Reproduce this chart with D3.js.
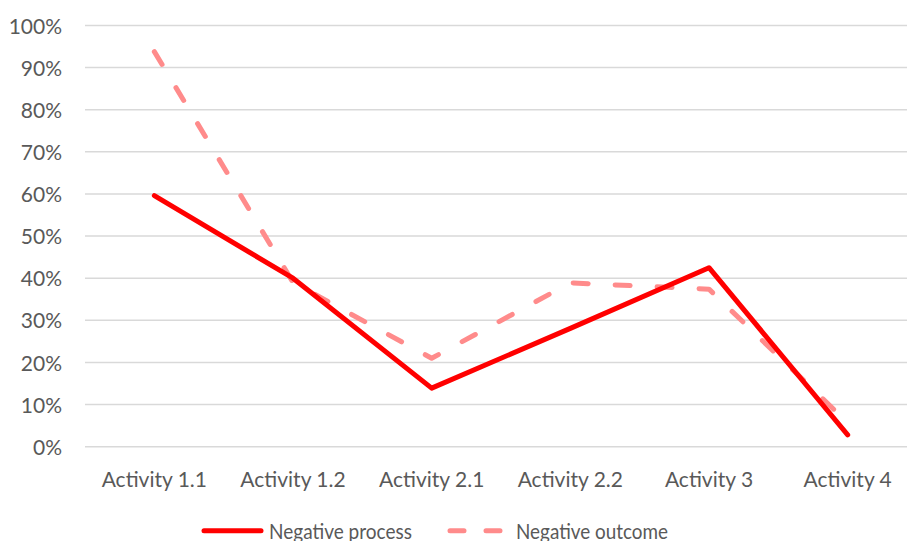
<!DOCTYPE html>
<html>
<head>
<meta charset="utf-8">
<script src="https://cdn.jsdelivr.net/npm/d3@7/dist/d3.min.js"></script>
<style>
  html, body { margin: 0; padding: 0; background: #fff; overflow: hidden; }
  svg { display: block; }
  text { font-family: Lato, "Open Sans", sans-serif; fill: #595959; }
</style>
</head>
<body>
<svg id="chart" width="907" height="541"></svg>
<script>
// Activities on the horizontal axis
const categories = ["Activity 1.1", "Activity 1.2", "Activity 2.1", "Activity 2.2", "Activity 3", "Activity 4"];
// Share of negative responses per activity
const negativeProcess = [0.596, 0.40, 0.139, 0.281, 0.425, 0.028];
const negativeOutcome = [0.938, 0.39, 0.21, 0.389, 0.374, 0.057];
// Vertical axis ticks
const yTicks = [0, 0.1, 0.2, 0.3, 0.4, 0.5, 0.6, 0.7, 0.8, 0.9, 1.0];

const seriesList = [
  { name: "Negative process", values: negativeProcess, color: "#FF0000", dash: null, legendDash: null, legendWidth: 143 },
  { name: "Negative outcome", values: negativeOutcome, color: "#FF8B8B", dash: "15,27", legendDash: "14,22", legendWidth: 152 }
];

const svg = d3.select("#chart");
const fontSize = 21;

const x = d3.scaleBand().domain(categories).range([85, 917]).padding(0);
const y = d3.scaleLinear().domain([0, 1]).range([446.7, 25.5]);

// Horizontal gridlines
svg.append("g")
  .selectAll("line")
  .data(yTicks)
  .join("line")
  .attr("x1", 85).attr("x2", 917)
  .attr("y1", d => y(d)).attr("y2", d => y(d))
  .attr("stroke", "#D9D9D9")
  .attr("stroke-width", 1.5);

// Y axis labels
const yAxis = d3.axisLeft(y).tickValues(yTicks).tickFormat(d3.format(".0%")).tickSize(0).tickPadding(0);
const yg = svg.append("g").attr("transform", "translate(62,0)").call(yAxis);
yg.select(".domain").remove();
yg.selectAll("text")
  .attr("font-family", "Lato, 'Open Sans', sans-serif")
  .attr("font-size", fontSize)
  .attr("fill", "#595959")
  .attr("dy", "0.36em");

// X axis labels
const xAxis = d3.axisBottom(x).tickSize(0).tickPadding(0);
const xg = svg.append("g").attr("transform", "translate(0,486.5)").call(xAxis);
xg.select(".domain").remove();
xg.selectAll("text")
  .attr("font-family", "Lato, 'Open Sans', sans-serif")
  .attr("font-size", fontSize)
  .attr("fill", "#595959")
  .attr("y", 0)
  .attr("dy", 0);

// Series lines
const line = d3.line()
  .x((d, i) => x(categories[i]) + x.bandwidth() / 2)
  .y(d => y(d));

svg.append("g")
  .selectAll("path")
  .data(seriesList.slice().reverse())
  .join("path")
  .attr("d", s => line(s.values))
  .attr("fill", "none")
  .attr("stroke", s => s.color)
  .attr("stroke-width", 5)
  .attr("stroke-linejoin", "round")
  .attr("stroke-linecap", "round")
  .attr("stroke-dasharray", s => s.dash);

// Legend
const legendItems = [
  { s: seriesList[0], x0: 204, x1: 261, tx: 269 },
  { s: seriesList[1], x0: 450, x1: 501, tx: 516 }
];
const lg = svg.append("g");
legendItems.forEach(item => {
  lg.append("line")
    .attr("x1", item.x0).attr("x2", item.x1)
    .attr("y1", 530.7).attr("y2", 530.7)
    .attr("stroke", item.s.color)
    .attr("stroke-width", 5)
    .attr("stroke-linecap", "round")
    .attr("stroke-dasharray", item.s.legendDash);
  lg.append("text")
    .attr("x", item.tx)
    .attr("y", 538.5)
    .attr("font-size", fontSize)
    .attr("textLength", item.s.legendWidth)
    .attr("lengthAdjust", "spacingAndGlyphs")
    .text(item.s.name);
});
</script>
</body>
</html>
